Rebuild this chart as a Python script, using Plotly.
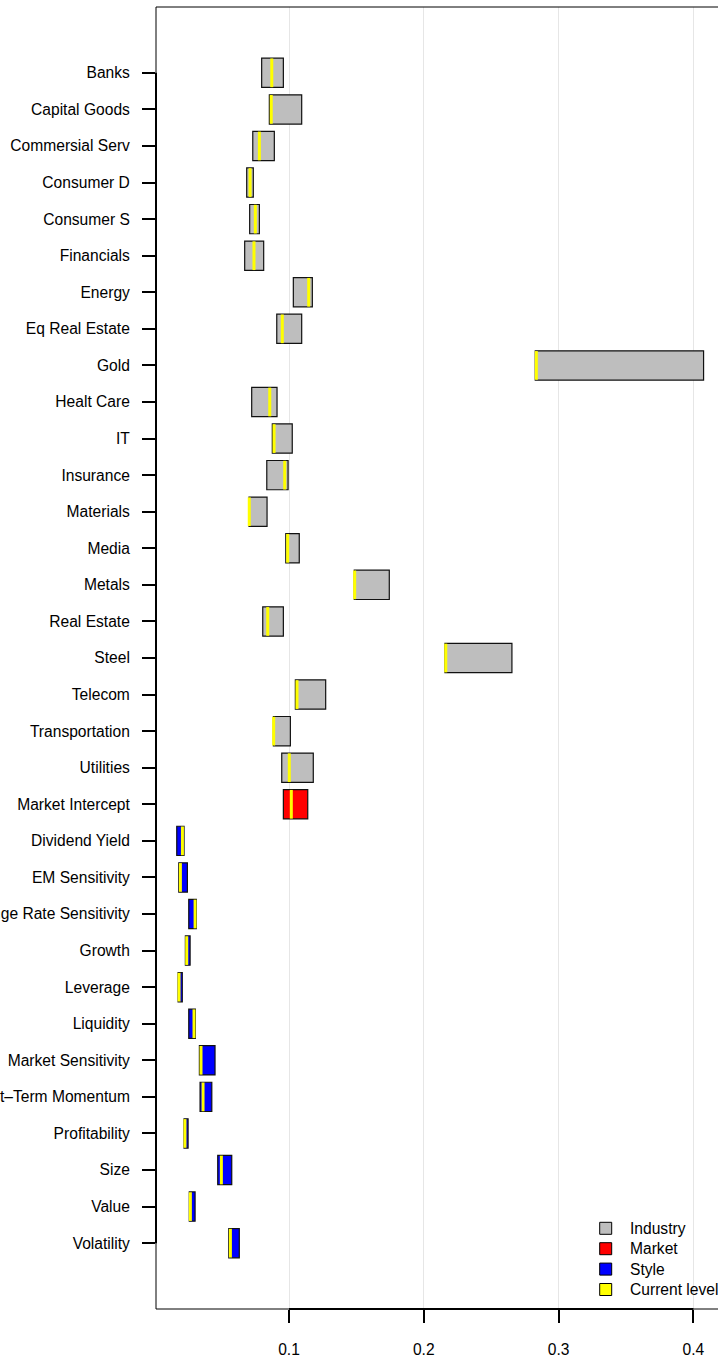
import plotly.graph_objects as go

FONT = "Liberation Sans, Arial, Helvetica, sans-serif"

industry_names = ["Banks", "Capital Goods", "Commersial Serv", "Consumer D", "Consumer S",
                  "Financials", "Energy", "Eq Real Estate", "Gold", "Healt Care", "IT",
                  "Insurance", "Materials", "Media", "Metals", "Real Estate", "Steel",
                  "Telecom", "Transportation", "Utilities"]
industry_low = [0.0797, 0.0854, 0.0731, 0.0686, 0.0708, 0.0671, 0.1032, 0.0909, 0.2827, 0.0723,
                0.0876, 0.0835, 0.0703, 0.0976, 0.1484, 0.0805, 0.2157, 0.1047, 0.0884, 0.0946]
industry_high = [0.0958, 0.1094, 0.0891, 0.0735, 0.0780, 0.0812, 0.1173, 0.1094, 0.4076, 0.0911,
                 0.1024, 0.0993, 0.0837, 0.1076, 0.1744, 0.0958, 0.2654, 0.1272, 0.1010, 0.1180]
industry_current = [0.0872, 0.0868, 0.0780, 0.0711, 0.0750, 0.0740, 0.1146, 0.0950, 0.2835, 0.0857,
                    0.0889, 0.0968, 0.0705, 0.0990, 0.1487, 0.0842, 0.2163, 0.1059, 0.0886, 0.1002]

market_names = ["Market Intercept"]
market_low = [0.0958]
market_high = [0.1139]
market_current = [0.1017]

style_names = ["Dividend Yield", "EM Sensitivity", "Exchange Rate Sensitivity", "Growth",
               "Leverage", "Liquidity", "Market Sensitivity", "Short\u2013Term Momentum",
               "Profitability", "Size", "Value", "Volatility"]
style_low = [0.0167, 0.0182, 0.0256, 0.0231, 0.0177, 0.0256, 0.0335, 0.0340, 0.0221, 0.0471, 0.0260, 0.0553]
style_high = [0.0221, 0.0246, 0.0312, 0.0266, 0.0208, 0.0305, 0.0451, 0.0427, 0.0251, 0.0575, 0.0303, 0.0631]
style_current = [0.0209, 0.0194, 0.0303, 0.0241, 0.0184, 0.0295, 0.0347, 0.0362, 0.0228, 0.0498, 0.0268, 0.0565]

legend_labels = ["Industry", "Market", "Style", "Current level"]
legend_colors = ["#BEBEBE", "#FF0000", "#0000FF", "#FFFF00"]

x_ticks = [0.1, 0.2, 0.3, 0.4]
x_tick_labels = ["0.1", "0.2", "0.3", "0.4"]

all_names = industry_names + market_names + style_names
n = len(all_names)
positions = list(range(n))
pos_ind = positions[:len(industry_names)]
pos_mkt = positions[len(industry_names):len(industry_names) + 1]
pos_sty = positions[len(industry_names) + 1:]

fig = go.Figure()


def add_group(name, pos, low, high, color):
    fig.add_trace(go.Bar(
        name=name, orientation="h", y=pos,
        x=[h - l for l, h in zip(low, high)], base=low, width=0.8,
        marker=dict(color=color, line=dict(color="#111111", width=1.2)),
        hoverinfo="skip", showlegend=False,
    ))


add_group("Industry", pos_ind, industry_low, industry_high, legend_colors[0])
add_group("Market", pos_mkt, market_low, market_high, legend_colors[1])
add_group("Style", pos_sty, style_low, style_high, legend_colors[2])

# current level markers
fig.add_trace(go.Scatter(
    name="Current level",
    x=industry_current + market_current + style_current, y=positions,
    mode="markers", showlegend=False, hoverinfo="skip",
    marker=dict(symbol="line-ns", size=20.5, line=dict(color=legend_colors[3], width=3)),
))

# layout geometry (pixels)
W, H = 718, 1357
ML, MR, MT, MB = 156, 0, 7, 48
PW, PH = W - ML - MR, H - MT - MB


def px2paper_x(px):
    return (px - ML) / PW


def px2paper_y(py):
    return (H - MB - py) / PH


shapes = [
    dict(type="rect", xref="paper", yref="paper", x0=0, x1=1.05, y0=0, y1=1,
         line=dict(color="black", width=1), layer="above"),
    dict(type="line", xref="x", yref="paper", x0=x_ticks[0], x1=x_ticks[-1], y0=0, y1=0,
         line=dict(color="black", width=2), layer="above"),
    dict(type="line", xref="paper", yref="y", x0=0, x1=0, y0=positions[0], y1=positions[-1],
         line=dict(color="black", width=2), layer="above"),
]
annotations = []

# manual legend (R-style)
leg_cx, leg_text_x, leg_y0, leg_dy, box = 605.7, 628.3, 1228.3, 20.4, 12
for i, (lab, col) in enumerate(zip(legend_labels, legend_colors)):
    cy = leg_y0 + i * leg_dy
    shapes.append(dict(type="rect", xref="paper", yref="paper",
                       x0=px2paper_x(leg_cx - box / 2), x1=px2paper_x(leg_cx + box / 2),
                       y0=px2paper_y(cy + box / 2), y1=px2paper_y(cy - box / 2),
                       fillcolor=col, line=dict(color="black", width=1), layer="above"))
    annotations.append(dict(xref="paper", yref="paper", x=px2paper_x(leg_text_x),
                            y=px2paper_y(cy), xanchor="left", yanchor="middle",
                            text=lab, showarrow=False,
                            font=dict(family=FONT, size=15.6, color="black")))

fig.update_layout(
    width=W, height=H,
    margin=dict(l=ML, r=MR, t=MT, b=MB, autoexpand=False),
    paper_bgcolor="white", plot_bgcolor="white",
    barmode="overlay",
    font=dict(family=FONT, size=15.6, color="black"),
    showlegend=False,
    xaxis=dict(range=[0.0013, 0.4183], tickvals=x_ticks, ticktext=x_tick_labels,
               showgrid=True, gridcolor="#E6E6E6", gridwidth=1, zeroline=False,
               showline=False, ticks="outside", ticklen=13, tickwidth=2, tickcolor="black",
               ticklabelstandoff=13, automargin=False,
               tickfont=dict(family=FONT, size=15.6, color="black")),
    yaxis=dict(range=[n - 1 + 1.8, -1.8], tickvals=positions, ticktext=all_names,
               showgrid=False, zeroline=False, showline=False,
               ticks="outside", ticklen=13, tickwidth=2, tickcolor="black",
               ticklabelstandoff=9, automargin=False,
               tickfont=dict(family=FONT, size=15.6, color="black")),
    shapes=shapes,
    annotations=annotations,
)

fig.write_html("out.html", config={"displayModeBar": False},
               post_script="document.body.style.margin='0';document.body.style.overflow='hidden';")
